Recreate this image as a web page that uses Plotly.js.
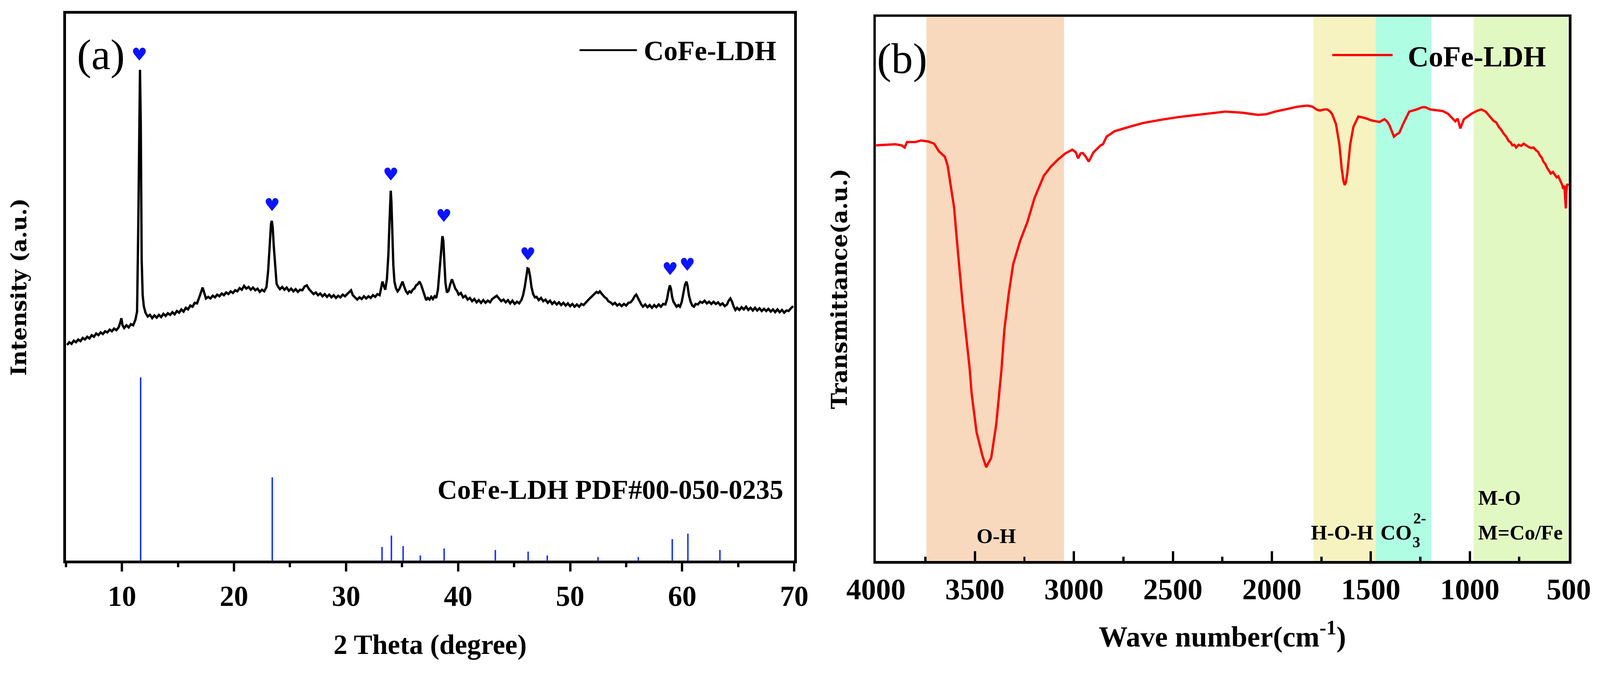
<!DOCTYPE html>
<html>
<head>
<meta charset="utf-8">
<script src="https://cdn.plot.ly/plotly-3.0.1.min.js"></script>
<style>html,body{margin:0;padding:0;background:#fff;overflow:hidden;}</style>
</head>
<body>
<div id="chart"></div>
<script>
// ---------- Panel (a): XRD pattern ----------
const xrdTheta = [
5.1,5.3,5.5,5.7,5.9,6.1,6.3,6.5,6.7,6.9,
7.1,7.3,7.5,7.7,7.9,8.1,8.3,8.5,8.7,8.9,
9.1,9.3,9.5,9.7,9.85,9.95,10.05,10.2,10.4,10.6,
10.8,11.0,11.2,11.35,11.45,11.55,11.61,11.68,11.76,11.85,
11.95,12.1,12.3,12.5,12.7,12.9,13.1,13.3,13.5,13.7,
13.9,14.1,14.3,14.5,14.7,14.9,15.1,15.3,15.5,15.7,
15.9,16.1,16.3,16.5,16.7,16.9,17.05,17.2,17.35,17.5,
17.7,17.9,18.1,18.3,18.5,18.7,18.9,19.1,19.3,19.5,
19.7,19.9,20.1,20.3,20.5,20.7,20.9,21.1,21.3,21.5,
21.7,21.9,22.1,22.3,22.5,22.7,22.9,23.05,23.2,23.3,
23.37,23.45,23.55,23.68,23.8,23.95,24.1,24.3,24.5,24.7,
24.9,25.1,25.3,25.5,25.7,25.9,26.1,26.3,26.5,26.7,
26.9,27.1,27.3,27.5,27.7,27.9,28.1,28.3,28.5,28.7,
28.9,29.1,29.3,29.5,29.7,29.9,30.1,30.3,30.45,30.6,
30.8,31.0,31.2,31.4,31.6,31.8,32.0,32.2,32.4,32.6,
32.8,33.0,33.15,33.25,33.35,33.5,33.65,33.78,33.88,33.95,
33.99,34.05,34.12,34.22,34.32,34.45,34.6,34.75,34.9,35.04,
35.2,35.35,35.5,35.65,35.8,35.95,36.1,36.25,36.4,36.55,
36.7,36.85,37.0,37.15,37.3,37.45,37.6,37.75,37.9,38.05,
38.2,38.35,38.5,38.6,38.68,38.77,38.87,39.0,39.15,39.3,
39.45,39.6,39.75,39.9,40.05,40.25,40.45,40.65,40.85,41.05,
41.25,41.45,41.65,41.85,42.05,42.25,42.45,42.65,42.85,43.05,
43.25,43.45,43.65,43.85,44.05,44.25,44.45,44.65,44.85,45.05,
45.25,45.45,45.65,45.8,45.95,46.1,46.2,46.3,46.42,46.55,
46.7,46.85,47.0,47.2,47.4,47.6,47.8,48.0,48.2,48.4,
48.6,48.8,49.0,49.2,49.4,49.6,49.8,50.0,50.2,50.4,
50.6,50.8,51.0,51.2,51.4,51.6,51.8,52.0,52.2,52.35,
52.5,52.65,52.8,52.95,53.1,53.25,53.4,53.6,53.8,54.0,
54.2,54.4,54.6,54.8,55.0,55.2,55.4,55.6,55.75,55.9,
56.05,56.2,56.35,56.5,56.7,56.9,57.1,57.3,57.5,57.7,
57.9,58.1,58.3,58.5,58.65,58.78,58.9,59.0,59.1,59.22,
59.35,59.5,59.65,59.8,59.95,60.1,60.25,60.38,60.48,60.6,
60.75,60.9,61.05,61.2,61.4,61.6,61.8,62.0,62.2,62.4,
62.6,62.8,63.0,63.2,63.4,63.6,63.8,64.0,64.15,64.3,
64.45,64.6,64.75,64.9,65.1,65.3,65.5,65.7,65.9,66.1,
66.3,66.5,66.7,66.9,67.1,67.3,67.5,67.7,67.9,68.1,
68.3,68.5,68.7,68.9,69.1,69.3,69.5,69.7,69.9];
const xrdIntensity = [
39.4,39.9,39.6,40.2,39.9,40.4,40.1,40.7,40.4,40.9,
40.6,41.2,40.9,41.5,41.2,41.7,41.4,41.9,41.7,42.2,
41.9,42.4,42.1,42.6,43.5,44.3,43.0,42.5,43.0,42.6,
43.2,43.0,44.0,45.5,60,85,89.7,80,55,48.5,
46.5,45.3,44.6,44.9,44.3,44.8,44.4,44.9,44.5,45.1,
44.7,45.2,44.9,45.4,45.0,45.6,45.3,45.9,45.5,46.2,
45.9,46.6,46.4,47.1,47.0,48.1,48.9,49.9,48.9,47.9,
48.2,47.9,48.4,48.1,48.6,48.3,48.8,48.5,49.0,48.7,
49.2,48.9,49.4,49.2,49.8,49.5,50.2,49.7,50.0,49.5,
49.9,49.4,49.7,49.1,49.5,49.2,50.0,53,58,61.5,
62.1,61,57.5,53.5,50.6,50.0,49.6,50.0,49.5,49.9,
49.3,49.7,49.2,49.6,49.1,49.5,49.4,50.1,50.3,49.6,
49.2,48.7,49.0,48.5,48.8,48.3,48.7,48.2,48.6,48.1,
48.5,48.0,48.4,48.1,48.6,48.3,48.7,49.1,49.4,48.5,
48.1,47.7,48.1,47.8,48.3,47.9,48.3,48.0,48.5,48.2,
48.7,48.5,50.0,51.0,50.3,49.5,51.5,56,62,66.5,
67.6,65.5,61,54,51,49.8,49.2,49.6,50.3,51.0,
50.0,49.2,48.8,49.2,49.0,49.5,49.7,50.3,50.5,51.0,
50.4,49.4,48.3,47.6,48.0,47.7,48.2,47.8,48.3,48.0,
49.5,53.5,57.5,59.3,58.5,55,50.8,49.0,49.3,50.5,
51.4,50.6,49.7,49.3,48.6,48.9,48.1,48.4,47.7,48.0,
47.4,47.8,47.2,47.6,47.1,47.6,47.1,47.5,47.2,47.8,
48.1,48.4,47.9,47.4,47.7,47.2,47.6,47.0,47.5,46.9,
47.3,47.0,47.6,48.5,50.0,52.4,53.4,53.3,52.0,50.0,
48.7,48.1,48.2,47.6,48.0,47.4,47.7,47.1,47.5,46.9,
47.3,46.8,47.2,46.7,47.1,46.6,47.0,46.5,46.9,46.4,
46.8,46.4,46.9,46.7,47.2,47.6,48.0,48.4,48.7,49.1,
48.9,49.2,48.8,48.4,48.1,47.9,47.4,47.2,46.8,47.1,
46.6,46.9,46.5,46.9,46.6,47.1,47.2,47.7,48.3,48.6,
48.0,47.3,46.8,46.4,46.8,46.3,46.7,46.2,46.7,46.3,
46.8,46.4,46.9,46.8,47.8,49.3,50.3,49.6,48.2,47.3,
46.9,46.4,46.7,46.4,47.2,48.6,50.4,51.0,50.2,48.5,
47.3,46.6,46.4,46.9,46.8,47.3,47.1,47.5,47.0,47.3,
46.9,47.3,46.9,47.2,46.7,47.0,46.5,46.8,47.5,47.9,
47.3,46.4,45.8,46.2,45.8,46.3,45.9,46.4,45.8,46.2,
45.7,46.2,45.7,46.1,45.6,46.0,45.6,46.0,45.5,45.9,
45.4,45.9,45.4,45.8,45.3,45.7,45.6,46.1,46.5];
// Reference pattern CoFe-LDH PDF#00-050-0235 (stick positions / relative heights)
const refTheta = [11.67,23.43,33.22,34.05,35.10,36.64,38.75,43.31,46.26,47.97,52.49,56.09,59.11,60.52,63.37];
const refIntensity = [33.5,15.2,2.5,4.55,2.6,0.9,2.2,1.9,1.6,0.9,0.6,0.6,3.9,4.9,1.9];
// Heart markers over the indexed peaks
const heartTheta = [11.55,23.39,33.99,38.72,46.22,58.92,60.45];
const heartY = [92.2,64.7,70.3,62.7,55.7,53.0,53.8];
const xrdTicks = [10,20,30,40,50,60,70];

// ---------- Panel (b): FTIR spectrum ----------
const ftirWavenumber = [4000,3960,3903,3870,3855,3843,3800,3772,3736,3706,3682,3670,3652,3638,3623,3605,3593,3581,3563,3545,3527,3517,3492,3462,3450,3443,3435,3418,3393,3373,3366,3351,3330,3307,3271,3235,3199,3152,3116,3080,3044,3008,2990,2979,2966,2955,2940,2925,2912,2901,2865,2853,2835,2794,2720,2651,2560,2472,2400,2309,2234,2150,2071,2030,1983,1920,1870,1820,1795,1770,1757,1735,1720,1705,1695,1676,1659,1647,1638,1632,1626,1619,1604,1588,1563,1540,1519,1500,1481,1456,1431,1418,1406,1395,1383,1370,1356,1337,1306,1268,1240,1224,1200,1180,1136,1110,1098,1073,1061,1048,1030,992,960,942,920,904,880,866,854,842,830,816,804,795,785,775,766,753,740,728,716,703,690,678,666,655,645,636,628,619,610,600,591,580,570,561,553,546,540,534,528,522,518,515,513,508,503];
const ftirTransmittance = [76.4,76.5,76.6,76.4,76.0,77.0,77.0,77.3,77.1,76.7,75.3,74.9,74.3,72.7,69.3,64.9,59.7,54.5,47.6,41.5,35.5,30.9,23.7,19.3,17.8,17.2,17.8,18.9,24.9,32.9,35.1,42.6,48.9,54.5,58.9,62.3,66.7,70.8,72.5,73.8,74.9,75.6,75.1,74.0,74.9,75.0,74.3,73.4,74.3,75.1,76.4,76.6,78.0,79.0,79.8,80.5,81.1,81.6,81.9,82.3,82.6,82.4,82.0,82.1,82.6,83.1,83.5,83.7,83.5,82.9,82.8,83.0,83.0,82.6,82.1,80.3,76.6,72.1,69.8,69.1,69.6,71.2,76.6,79.8,81.7,81.5,81.3,81.0,80.9,80.7,81.2,80.8,80.1,79.0,78.0,78.4,78.7,80.3,82.6,83.0,83.4,83.4,83.0,82.9,82.7,82.2,81.7,80.8,81.3,79.5,81.2,82.2,82.8,83.0,82.6,81.9,80.9,80.6,79.8,79.3,78.6,78.0,77.2,77.0,76.4,76.5,76.0,76.5,76.3,76.7,76.4,76.1,75.9,76.0,75.5,75.2,74.5,74.1,73.4,73.0,72.3,71.8,71.2,71.5,71.0,70.5,70.7,70.2,69.8,69.2,68.4,69.0,66.5,64.8,67.5,69.3,69.0,69.8];
// Assignment bands (wavenumber ranges)
const bandStart = [3745,1790,1475,980];
const bandEnd = [3050,1475,1195,505];
const bandColors = ['#F8D9BD','#F6F3C1','#AFFDE3','#E1F8C2'];
const ftirTicks = [4000,3500,3000,2500,2000,1500,1000,500];

// Fit the 4150x1733 design into the actual viewport (sizes below are design pixels)
const W0 = 4150, H0 = 1733;
const K = Math.min((window.innerWidth || W0) / W0, (window.innerHeight || H0) / H0, 1);
const px = v => v * K;
const chartDiv = document.getElementById('chart');
chartDiv.style.width = (W0 * K) + 'px';
chartDiv.style.height = (H0 * K) + 'px';

const serifB = {family:'Liberation Serif, Times New Roman, serif', weight:'bold', color:'#000'};
function f(size){ return Object.assign({}, serifB, {size:px(size)}); }

const traces = [
  {x: refTheta, y: refIntensity, type:'bar', width:0.14, marker:{color:'#1f3cff', line:{width:0}}, xaxis:'x', yaxis:'y', showlegend:false, hoverinfo:'skip'},
  {x: xrdTheta, y: xrdIntensity, type:'scatter', mode:'lines', line:{color:'#000', width:px(6)}, xaxis:'x', yaxis:'y', name:'CoFe-LDH', showlegend:false},
  {x: heartTheta, y: heartY, type:'scatter', mode:'text', text: heartTheta.map(()=> '\u2665'), textposition:'middle center', textfont:{family:'DejaVu Sans', size:px(46), color:'#0a14ff'}, xaxis:'x', yaxis:'y', showlegend:false, hoverinfo:'skip'},
  {x: ftirWavenumber, y: ftirTransmittance, type:'scatter', mode:'lines', line:{color:'#ff0000', width:px(6)}, xaxis:'x2', yaxis:'y2', name:'CoFe-LDH', showlegend:false}
];

const shapes = bandStart.map((s,i)=>({type:'rect', xref:'x2', yref:'y2 domain', x0:s, x1:bandEnd[i], y0:0, y1:1, fillcolor:bandColors[i], line:{width:0}, layer:'below'}));
// legend samples
shapes.push({type:'line', xref:'x', yref:'y', x0:50.84, x1:55.96, y0:93.3, y1:93.3, line:{color:'#000', width:px(5)}});
shapes.push({type:'line', xref:'x2', yref:'y2', x0:1695, x1:1390, y0:93.0, y1:93.0, line:{color:'#ff0000', width:px(6)}});

const annotations = [
  {xref:'x', yref:'y', x:8.13, y:92.5, text:'(a)', showarrow:false, font:{family:'Liberation Serif', size:px(112), color:'#000'}},
  {xref:'x', yref:'y', x:56.51, y:93.2, xanchor:'left', text:'CoFe-LDH', showarrow:false, font:f(72)},
  {xref:'x', yref:'y', x:38.1, y:12.97, xanchor:'left', text:'CoFe-LDH PDF#00-050-0235', showarrow:false, font:f(71)},
  {xref:'x2', yref:'y2', x:3867, y:92.4, text:'(b)', showarrow:false, font:{family:'Liberation Serif', size:px(112), color:'#000'}},
  {xref:'x2', yref:'y2', x:1318, y:92.7, xanchor:'left', text:'CoFe-LDH', showarrow:false, font:f(75)},
  {xref:'x2', yref:'y2', x:3393, y:4.57, text:'O-H', showarrow:false, font:f(54)},
  {xref:'x2', yref:'y2', x:1644, y:5.17, text:'H-O-H', showarrow:false, font:f(54)},
  {xref:'x2', yref:'y2', x:1455, y:5.17, xanchor:'left', text:'CO', showarrow:false, font:f(54)},
  {xref:'x2', yref:'y2', x:1269, y:3.4, text:'3', showarrow:false, font:f(40)},
  {xref:'x2', yref:'y2', x:1252, y:7.8, text:'2-', showarrow:false, font:f(40)},
  {xref:'x2', yref:'y2', x:962, y:11.55, xanchor:'left', text:'M-O', showarrow:false, font:f(54)},
  {xref:'x2', yref:'y2', x:962, y:5.17, xanchor:'left', text:'M=Co/Fe', showarrow:false, font:f(54)}
];

const axLine = {showline:true, linecolor:'#000', linewidth:px(7), mirror:true, showgrid:false, zeroline:false};

const layout = {
  width:W0 * K, height:H0 * K,
  margin:{l:0, r:0, t:0, b:0},
  paper_bgcolor:'#fff', plot_bgcolor:'rgba(0,0,0,0)',
  showlegend:false,
  bargap:0,
  xaxis: Object.assign({}, axLine, {
    domain:[0.0412, 0.4964], range:[5,70], anchor:'y',
    tickmode:'array', tickvals: xrdTicks, ticktext: xrdTicks.map(String),
    ticks:'outside', ticklen:px(22), tickwidth:px(6), tickcolor:'#000',
    minor:{ticks:'outside', ticklen:px(11), tickwidth:px(6), tickcolor:'#000', dtick:5, tick0:5, showgrid:false},
    tickfont: f(74), ticklabelstandoff: px(19),
    title:{text:'2 Theta (degree)', font:f(72), standoff:px(62)}
  }),
  yaxis: Object.assign({}, axLine, {
    domain:[0.16099, 0.9798], range:[0,100], anchor:'x',
    showticklabels:false, ticks:'',
    title:{text:'Intensity (a.u.)', font:{family:'DejaVu Serif', weight:'bold', size:px(55), color:'#000'}, standoff:px(80)}
  }),
  xaxis2: Object.assign({}, axLine, {
    domain:[0.54747, 0.98048], range:[4000,500], anchor:'y2',
    tickmode:'array', tickvals: ftirTicks, ticktext: ftirTicks.map(String),
    ticks:'inside', ticklen:px(25), tickwidth:px(6), tickcolor:'#000',
    minor:{ticks:'inside', ticklen:px(11), tickwidth:px(6), tickcolor:'#000', dtick:250, tick0:500, showgrid:false},
    tickfont: f(77), ticklabelstandoff: px(24),
    title:{text:'Wave number(cm<sup>-1</sup>)', font:f(75), standoff:px(58)}
  }),
  yaxis2: Object.assign({}, axLine, {
    domain:[0.16042, 0.97461], range:[0,100], anchor:'x2',
    showticklabels:false, ticks:'',
    title:{text:'Transmittance(a.u.)', font:{family:'DejaVu Serif', weight:'bold', size:px(56), color:'#000'}, standoff:px(52)}
  }),
  shapes: shapes,
  annotations: annotations
};

Plotly.newPlot('chart', traces, layout, {staticPlot:true, displayModeBar:false}).then(() => {
  // drop empty placeholder text nodes that Plotly leaves in the SVG
  document.querySelectorAll('#chart text').forEach(t => { if (!t.textContent.trim()) t.remove(); });
});
</script>
</body>
</html>
